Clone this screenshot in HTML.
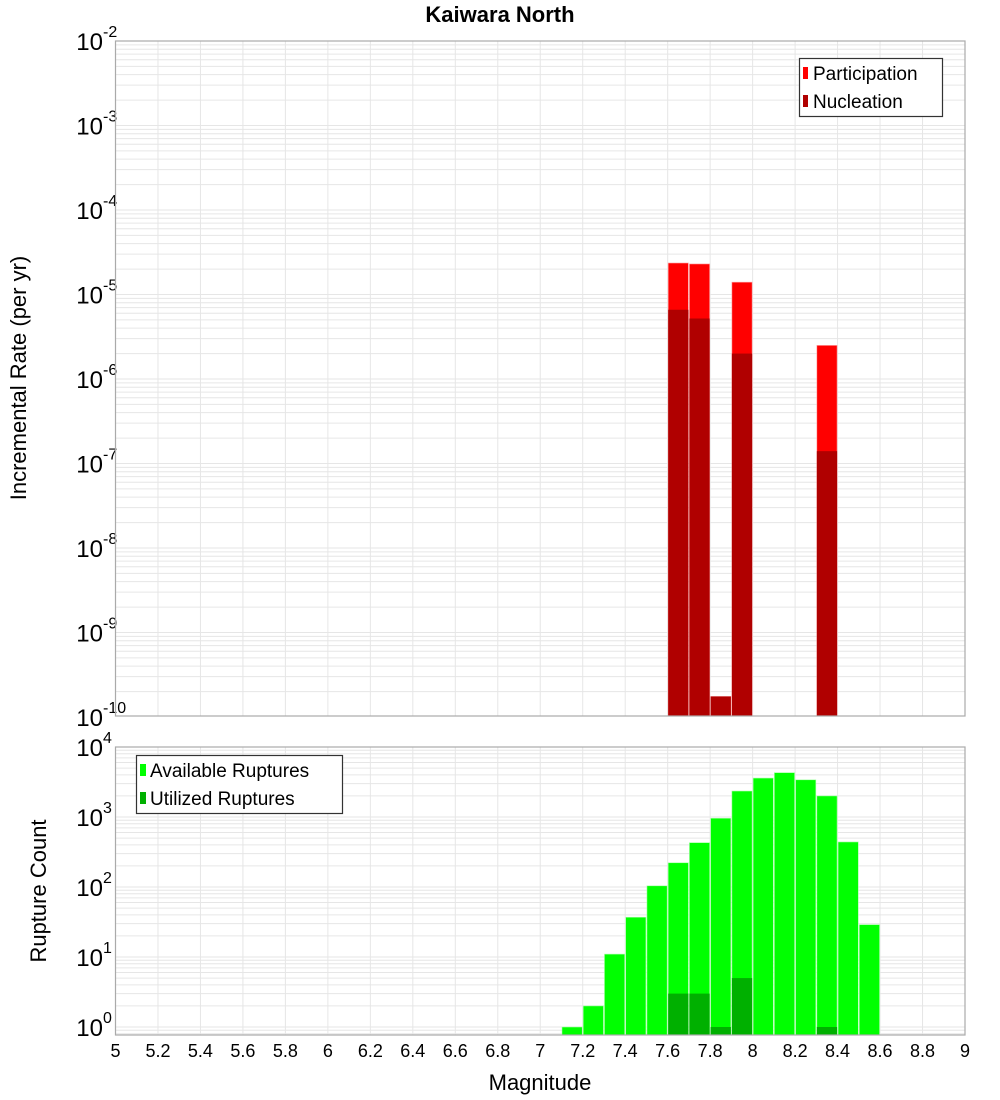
<!DOCTYPE html>
<html><head><meta charset="utf-8"><style>
html,body{margin:0;padding:0;background:#fff}
svg{display:block;font-family:"Liberation Sans","DejaVu Sans",sans-serif}
</style></head><body>
<svg id="c" width="1000" height="1100" xmlns="http://www.w3.org/2000/svg">
<text x="500" y="22" text-anchor="middle" font-size="22" font-weight="bold">Kaiwara North</text>
<g id="top"></g>
<g id="bot"></g>
<text transform="translate(26,378) rotate(-90)" text-anchor="middle" font-size="22">Incremental Rate (per yr)</text>
<text transform="translate(46,891) rotate(-90)" text-anchor="middle" font-size="22">Rupture Count</text>
<text x="540" y="1090" text-anchor="middle" font-size="22">Magnitude</text>
<g>
<rect x="799.5" y="58.5" width="143" height="58" fill="#fff" stroke="#333" stroke-width="1.2"/>
<rect x="803" y="67" width="5" height="12" fill="#ff0000"/>
<text x="813" y="80" font-size="19">Participation</text>
<rect x="803" y="95" width="5" height="12" fill="#b00000"/>
<text x="813" y="108" font-size="19">Nucleation</text>
</g>
<g>
<rect x="136.5" y="755.5" width="206" height="58" fill="#fff" stroke="#333" stroke-width="1.2"/>
<rect x="140" y="764" width="6" height="12" fill="#00ff00"/>
<text x="150" y="777" font-size="19">Available Ruptures</text>
<rect x="140" y="792" width="6" height="12" fill="#00b000"/>
<text x="150" y="805" font-size="19">Utilized Ruptures</text>
</g>
</svg>
<script>
const rateBins=[7.6,7.7,7.8,7.9,8.3];
const participation=[2.36e-5,2.3e-5,1.75e-10,1.4e-5,2.5e-6];
const nucleation=[6.6e-6,5.2e-6,1.75e-10,2.0e-6,1.4e-7];
const countBins=[7.1,7.2,7.3,7.4,7.5,7.6,7.7,7.8,7.9,8.0,8.1,8.2,8.3,8.4,8.5];
const available=[1,2,11,37,104,222,430,960,2350,3600,4300,3400,2000,440,29];
const utilized=[0,0,0,0,0,3,3,1,5,0,0,0,1,0,0];
const xTicks=[5,5.2,5.4,5.6,5.8,6,6.2,6.4,6.6,6.8,7,7.2,7.4,7.6,7.8,8,8.2,8.4,8.6,8.8,9];
const rateExps=[-2,-3,-4,-5,-6,-7,-8,-9,-10];
const countExps=[4,3,2,1,0];
const binW=0.1;
const NS="http://www.w3.org/2000/svg";
const X0=115.5,X1=965;
const x=m=>X0+(m-5)/4*(X1-X0);
const yTop=v=>41+(-2-Math.log10(v))*84.5;
const yBot=v=>747+(4-Math.log10(v))*70;
function mk(p,t,a){const e=document.createElementNS(NS,t);for(const k in a)e.setAttribute(k,a[k]);p.appendChild(e);return e;}
function panel(g,top,bot,yf,eLo,eHi,exps,name){
  mk(g,'rect',{x:X0,y:top,width:X1-X0,height:bot-top,fill:'#fff'});
  for(let e=eLo;e<eHi;e++)for(let k=1;k<10;k++){const yy=yf(k*Math.pow(10,e));if(yy<top||yy>bot)continue;
    const l=mk(g,'line',{x1:X0,x2:X1,y1:yy,y2:yy,stroke:'#e6e6e6','stroke-width':1});
    
    }
  xTicks.forEach(t=>{const l=mk(g,'line',{x1:x(t),x2:x(t),y1:top,y2:bot,stroke:'#e6e6e6','stroke-width':1});
    
    });
  exps.forEach(e=>{const yy=yf(Math.pow(10,e));const t=mk(g,'text',{x:103,y:yy+9,'text-anchor':'end','font-size':24});
    
    
    t.textContent='10';const s=mk(g,'text',{x:103,y:yy-4,'font-size':16});
    
    
    s.textContent=String(e);});
}
const gt=document.getElementById('top'),gb=document.getElementById('bot');
panel(gt,41,716,yTop,-10,-2,rateExps,'rate');
panel(gb,747,1035,yBot,-1,4,countExps,'count');
rateBins.forEach((b,i)=>{
  const r=mk(gt,'rect',{x:x(b)+0.5,y:yTop(participation[i]),width:x(b+binW)-x(b)-1,height:716-yTop(participation[i]),fill:'#ff0000',stroke:'#ffaaaa','stroke-width':0.6});
  
  
  const n=mk(gt,'rect',{x:x(b)+0.5,y:yTop(nucleation[i]),width:x(b+binW)-x(b)-1,height:716-yTop(nucleation[i]),fill:'#b00000'});
  
  
});
countBins.forEach((b,i)=>{
  const yy=Math.min(yBot(available[i]),1035);
  const r=mk(gb,'rect',{x:x(b)+0.5,y:yy,width:x(b+binW)-x(b)-1,height:1035-yy,fill:'#00ff00',stroke:'#aaffaa','stroke-width':0.6});
  
  
  if(utilized[i]>0){const uy=yBot(utilized[i]);
    const u=mk(gb,'rect',{x:x(b)+0.5,y:uy,width:x(b+binW)-x(b)-1,height:1035-uy,fill:'#00b000'});
    
    }
});
[[gt,41,716],[gb,747,1035]].forEach(([g,t,b])=>{const f=mk(g,'rect',{x:X0,y:t,width:X1-X0,height:b-t,fill:'none',stroke:'#aaaaaa','stroke-width':1.2});
  
  });
xTicks.forEach(t=>{const l=mk(gb,'text',{x:x(t),y:1057,'text-anchor':'middle','font-size':18});
  
  
  l.textContent=String(t);});
</script>
</body></html>
